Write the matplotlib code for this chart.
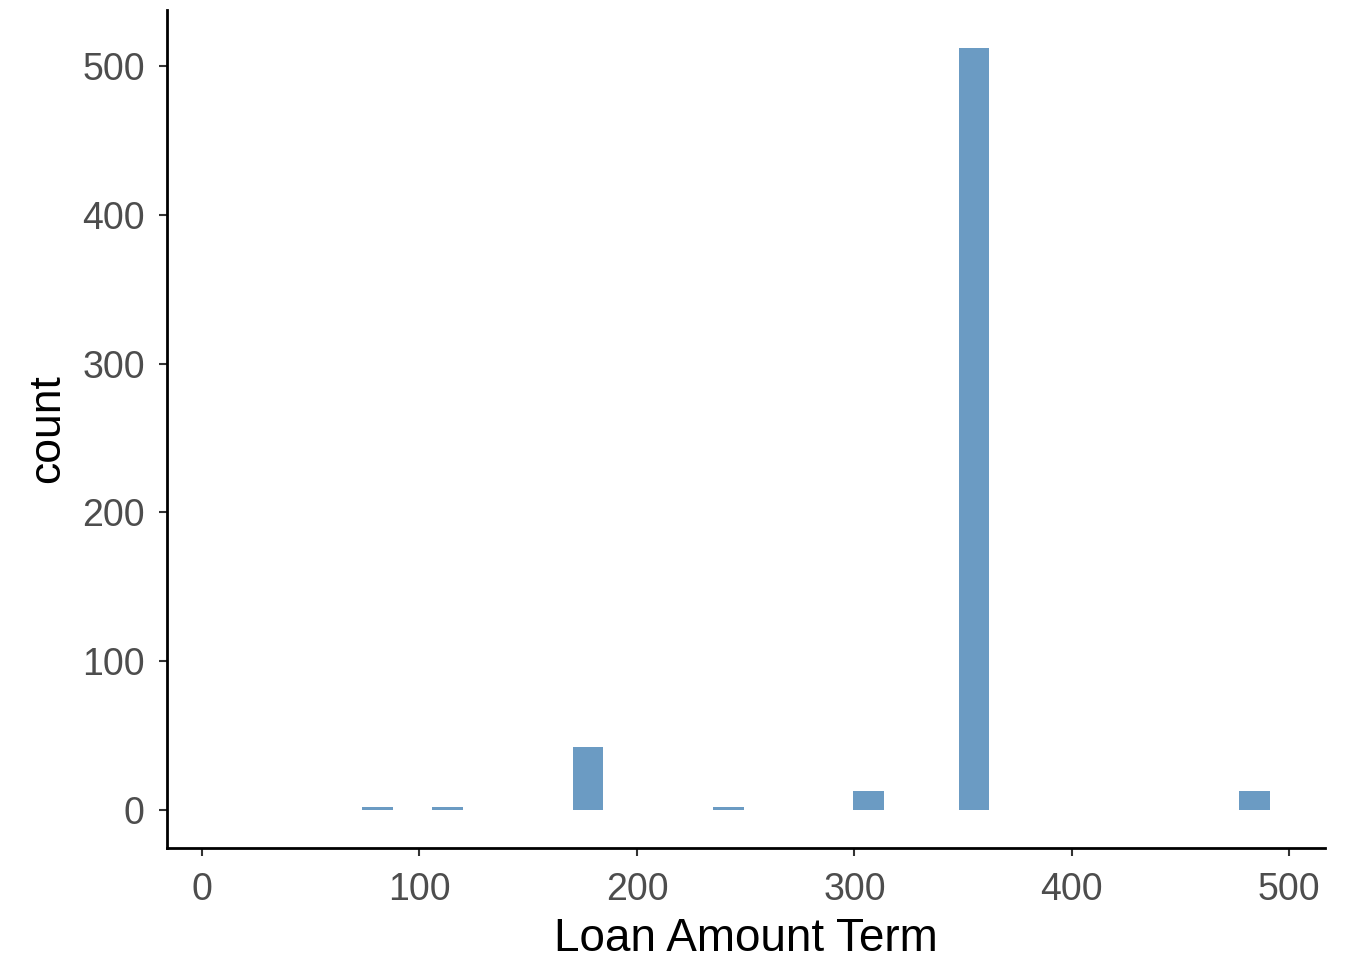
import numpy as np
import matplotlib
matplotlib.use("Agg")
import matplotlib.pyplot as plt

# Loan_Amount_Term values and their counts
term_values = [84, 120, 180, 240, 300, 360, 480]
term_counts = [2, 2, 42, 2, 13, 512, 13]

# ggplot-style 30 bins over the data range 12..480
n_bins = 30
x_min, x_max = 12, 480
binwidth = (x_max - x_min) / (n_bins - 1)
edges = binwidth / 2 + binwidth * np.arange(n_bins + 1)

counts, edges = np.histogram(term_values, bins=edges, weights=term_counts)
centers = (edges[:-1] + edges[1:]) / 2

plt.rcParams['font.family'] = ['Liberation Sans', 'DejaVu Sans']

fig = plt.figure(figsize=(13.54, 9.6), dpi=100)
ax = fig.add_axes([0.1233, 0.1167, 0.8553, 0.8729])

fill = (0.275, 0.510, 0.706, 0.8)  # steelblue, alpha .8
mask = counts > 0
ax.bar(centers[mask], counts[mask], width=binwidth * 0.875, color=fill, linewidth=0)

span = edges[-1] - edges[0]
ax.set_xlim(edges[0] - 0.05 * span, edges[-1] + 0.05 * span)
ax.set_ylim(-0.05 * 512, 512 * 1.05)

ax.set_xticks([0, 100, 200, 300, 400, 500])
ax.set_yticks([0, 100, 200, 300, 400, 500])

for side in ['top', 'right']:
    ax.spines[side].set_visible(False)
for side in ['left', 'bottom']:
    ax.spines[side].set_linewidth(2.0)
    ax.spines[side].set_color('black')

ax.tick_params(axis='both', length=6, width=1.5, color='#333333',
               labelsize=27, labelcolor='#4D4D4D')
ax.tick_params(axis='x', pad=11)
ax.tick_params(axis='y', pad=10)

ax.set_xlabel('Loan Amount Term', fontsize=33, color='black', labelpad=7)
ax.set_ylabel('count', fontsize=32, color='black', labelpad=10)

fig.savefig('out.png', dpi=100)
